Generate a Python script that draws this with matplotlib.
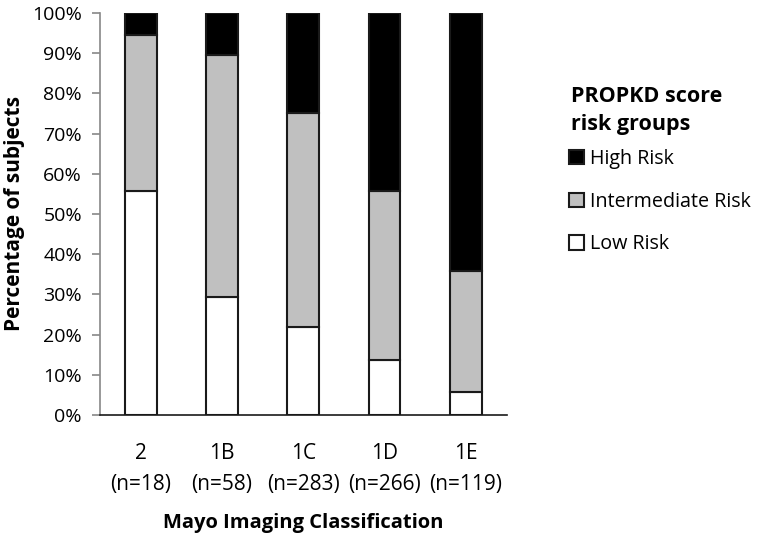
import matplotlib
matplotlib.use("Agg")
import matplotlib.pyplot as plt
import numpy as np
from matplotlib.ticker import PercentFormatter

plt.rcParams['font.family'] = ['Open Sans', 'DejaVu Sans']

categories = ['2\n(n=18)', '1B\n(n=58)', '1C\n(n=283)', '1D\n(n=266)', '1E\n(n=119)']
low = [55.6, 29.3, 21.9, 13.6, 5.8]
intermediate = [38.8, 60.3, 53.1, 42.2, 30.1]
high = [5.6, 10.4, 25.0, 44.2, 64.1]

x = np.arange(len(categories))
w = 0.39

fig = plt.figure(figsize=(7.6, 5.33), dpi=100)
ax = fig.add_axes([0.1316, 0.221, 0.535, 0.755])

b_low = ax.bar(x, low, w, color='white', edgecolor='#1a1a1a', linewidth=1.5, label='Low Risk')
b_int = ax.bar(x, intermediate, w, bottom=low, color='#c0c0c0', edgecolor='#1a1a1a',
               linewidth=1.5, label='Intermediate Risk')
bot2 = np.array(low) + np.array(intermediate)
b_high = ax.bar(x, high, w, bottom=bot2, color='black', edgecolor='#1a1a1a',
                linewidth=1.5, label='High Risk')

ax.set_xlim(-0.5, 4.5)
ax.set_ylim(0, 100)
ax.set_yticks(np.arange(0, 101, 10))
ax.yaxis.set_major_formatter(PercentFormatter(decimals=0))
ax.set_xticks(x)
ax.set_xticklabels(categories, fontsize=15, linespacing=1.6)
ax.tick_params(axis='y', labelsize=14, color='#888888', length=6, width=1.2, pad=7)
ax.tick_params(axis='x', length=0, pad=20)

for s in ['top', 'right']:
    ax.spines[s].set_visible(False)
ax.spines['left'].set_color('#888888')
ax.spines['left'].set_linewidth(1.2)
ax.spines['bottom'].set_color('#1a1a1a')
ax.spines['bottom'].set_linewidth(1.2)

ax.set_ylabel('Percentage of subjects', fontsize=15, fontweight='bold', labelpad=5)
ax.set_xlabel('Mayo Imaging Classification', fontsize=14.5, fontweight='bold', labelpad=13)

fig.text(571 / 760, 1 - 86 / 533, 'PROPKD score\nrisk groups', fontsize=15.5,
         fontweight='bold', ha='left', va='top', linespacing=1.45)

leg = fig.legend(handles=[b_high, b_int, b_low], loc='upper left',
                 bbox_to_anchor=(569 / 760, 1 - 149 / 533), frameon=False,
                 fontsize=14.2, borderpad=0,
                 handlelength=0.75, handleheight=0.75, handletextpad=0.3,
                 labelspacing=1.15, borderaxespad=0)

fig.savefig('out.png', dpi=100)
